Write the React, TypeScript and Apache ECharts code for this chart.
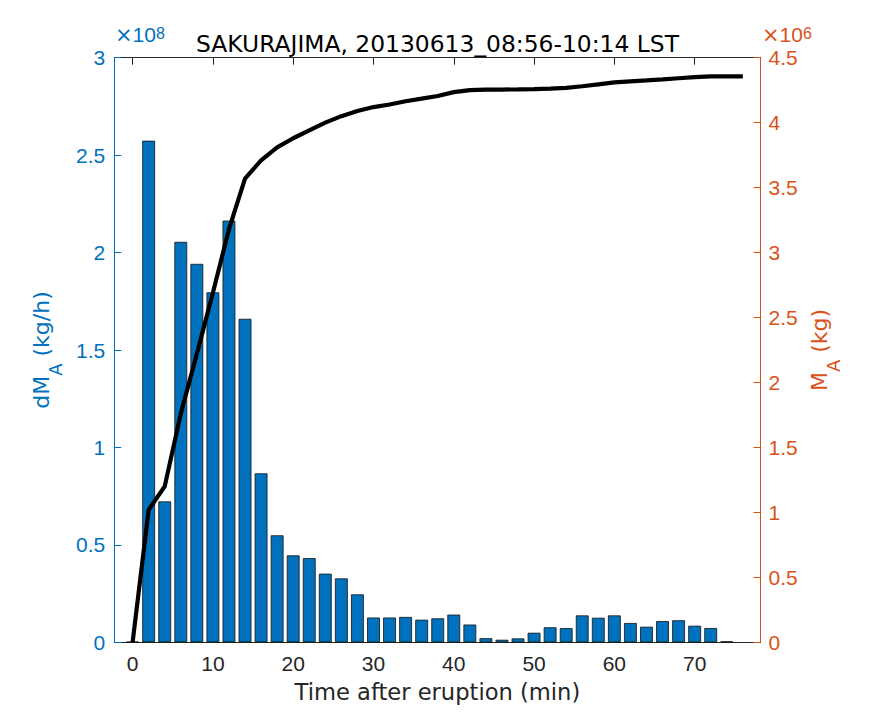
import { useEffect, useRef } from 'react';
import * as echarts from 'echarts';

// 时间（min），柱与累积曲线共用同一时间刻度
const barTimes = [0, 2, 4, 6, 8, 10, 12, 14, 16, 18, 20, 22, 24, 26, 28, 30, 32, 34, 36, 38, 40, 42, 44, 46, 48, 50, 52, 54, 56, 58, 60, 62, 64, 66, 68, 70, 72, 74];
// dM_A（×1e8 kg/h）
const dMA = [0.003, 2.574, 0.723, 2.055, 1.942, 1.796, 2.164, 1.66, 0.867, 0.549, 0.446, 0.432, 0.352, 0.328, 0.246, 0.127, 0.127, 0.13, 0.116, 0.123, 0.142, 0.091, 0.021, 0.013, 0.02, 0.049, 0.077, 0.073, 0.138, 0.126, 0.138, 0.099, 0.08, 0.109, 0.113, 0.085, 0.073, 0.005];

const lineTimes = [0, 2, 4, 6, 8, 10, 12, 14, 16, 18, 20, 22, 24, 26, 28, 30, 32, 34, 36, 38, 40, 42, 44, 46, 48, 50, 52, 54, 56, 58, 60, 62, 64, 66, 68, 70, 72, 74, 76];
// M_A 累积（×1e6 kg）
const MA = [0, 1.02, 1.2, 1.76, 2.22, 2.69, 3.18, 3.57, 3.71, 3.81, 3.88, 3.94, 4.0, 4.05, 4.09, 4.12, 4.14, 4.165, 4.185, 4.205, 4.235, 4.25, 4.254, 4.255, 4.256, 4.258, 4.262, 4.268, 4.28, 4.295, 4.31, 4.318, 4.325, 4.333, 4.342, 4.35, 4.356, 4.357, 4.357];

const xTicks = [0, 10, 20, 30, 40, 50, 60, 70];

const BLUE = '#0072BD';
const ORANGE = '#D95319';
const DARK = '#262626';
// 刻度数字用窄体 Liberation Sans，标题/轴名用较宽的 DejaVu，贴近原图字宽
const FONT = '"Liberation Sans", Arial, sans-serif';
const WIDE = '"DejaVu Sans", sans-serif';

function buildOption(): echarts.EChartsOption {
  const subRich = (color: string) => ({
    n: { fontSize: 22, color, fontFamily: WIDE, lineHeight: 34, verticalAlign: 'top' as const },
    s: { fontSize: 18, color, fontFamily: WIDE, lineHeight: 34, verticalAlign: 'bottom' as const },
  });
  const xBase = {
    type: 'value' as const,
    min: -2.28,
    max: 78.2,
    splitLine: { show: false },
    axisLine: { show: true, onZero: false, lineStyle: { color: DARK, width: 1 } },
    axisTick: { show: true, inside: true, length: 7, customValues: xTicks, lineStyle: { color: DARK } },
  };
  // 轴顶的 ×10^n 量级标注（行高压紧，避免与顶端刻度数字相叠；× 用 DejaVu 显得更大）
  const powerRich = (color: string) => ({
    x: { fontSize: 21, fill: color, fontFamily: WIDE, lineHeight: 20, verticalAlign: 'bottom' as const },
    a: { fontSize: 21, fill: color, fontFamily: FONT, lineHeight: 20, verticalAlign: 'bottom' as const },
    b: { fontSize: 16, fill: color, fontFamily: FONT, lineHeight: 20, verticalAlign: 'top' as const },
  });
  return {
    animation: false,
    backgroundColor: '#fff',
    title: {
      text: 'SAKURAJIMA, 20130613_08:56-10:14 LST',
      left: 'center',
      top: 27,
      textStyle: { fontSize: 23.4, fontWeight: 'normal', color: '#000', fontFamily: WIDE },
    },
    grid: { left: 114.3, right: 114.5, top: 57.7, bottom: 80.7, containLabel: false },
    xAxis: [
      {
        ...xBase,
        position: 'bottom',
        name: 'Time after eruption (min)',
        nameLocation: 'middle',
        nameGap: 38,
        nameTextStyle: { fontSize: 22.6, color: DARK, fontFamily: WIDE },
        axisLabel: { customValues: xTicks, color: DARK, fontSize: 21, fontFamily: FONT, margin: 11 },
      },
      {
        ...xBase,
        position: 'top',
        axisLabel: { show: false },
      },
    ],
    yAxis: [
      {
        type: 'value',
        position: 'left',
        min: 0,
        max: 3,
        interval: 0.5,
        splitLine: { show: false },
        axisLine: { show: true, onZero: false, lineStyle: { color: BLUE } },
        axisTick: { show: true, inside: true, length: 7, lineStyle: { color: BLUE } },
        axisLabel: { color: BLUE, fontSize: 21, fontFamily: FONT, margin: 9 },
        name: '{n|dM}{s|A}{n| (kg/h)}',
        nameLocation: 'middle',
        nameRotate: 90,
        nameGap: 50,
        nameTextStyle: { rich: subRich(BLUE) },
      },
      {
        type: 'value',
        position: 'right',
        min: 0,
        max: 4.5,
        interval: 0.5,
        splitLine: { show: false },
        axisLine: { show: true, onZero: false, lineStyle: { color: ORANGE } },
        axisTick: { show: true, inside: true, length: 7, lineStyle: { color: ORANGE } },
        axisLabel: { color: ORANGE, fontSize: 21, fontFamily: FONT, margin: 8 },
        name: '{n|M}{s|A}{n| (kg)}',
        nameLocation: 'middle',
        nameRotate: 90,
        nameGap: 48,
        nameTextStyle: { rich: subRich(ORANGE) },
      },
    ],
    graphic: [
      {
        type: 'text',
        left: 115,
        top: 24,
        style: { text: '{x|×}{a|10}{b|8}', rich: powerRich(BLUE) },
      },
      {
        type: 'text',
        left: 762,
        top: 24,
        style: { text: '{x|×}{a|10}{b|6}', rich: powerRich(ORANGE) },
      },
    ],
    series: [
      {
        type: 'bar',
        xAxisIndex: 0,
        yAxisIndex: 0,
        barWidth: 12.8,
        itemStyle: { color: BLUE, borderColor: '#111', borderWidth: 0.8 },
        data: barTimes.map((t, i) => [t, dMA[i]]),
        z: 2,
      },
      {
        type: 'line',
        xAxisIndex: 0,
        yAxisIndex: 1,
        symbol: 'none',
        lineStyle: { color: '#000', width: 4.2 },
        data: lineTimes.map((t, i) => [t, MA[i]]),
        z: 3,
      },
    ],
  };
}

export default function App() {
  const ref = useRef<HTMLDivElement>(null);

  useEffect(() => {
    if (!ref.current) return;
    const chart = echarts.init(ref.current, undefined, { renderer: 'svg' });
    chart.setOption(buildOption());
    return () => chart.dispose();
  }, []);

  return (
    <div
      ref={ref}
      style={{ position: 'absolute', left: 0, top: 0, width: 875, height: 723, background: '#fff' }}
    />
  );
}
